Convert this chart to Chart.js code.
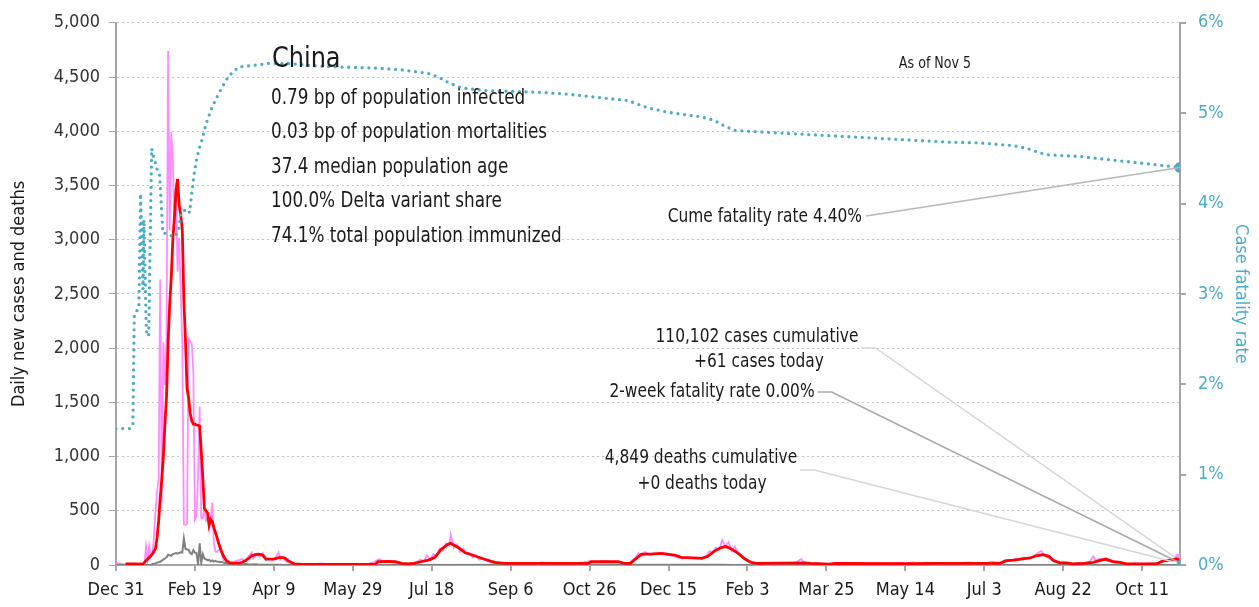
<!DOCTYPE html>
<html><head><meta charset="utf-8">
<script src="https://cdn.jsdelivr.net/npm/chart.js@4.4.0/dist/chart.umd.min.js"></script>
<style>
html,body{margin:0;padding:0;background:#fff;}
#wrap{position:relative;width:1259px;height:607px;}
</style></head><body>
<div id="wrap"><canvas id="c" width="1259" height="607"></canvas></div>
<script>
// ---------- DATA (day 0 = Dec 31, 2019) ----------
const xTickLabels = ['Dec 31','Feb 19','Apr 9','May 29','Jul 18','Sep 6','Oct 26','Dec 15','Feb 3','Mar 25','May 14','Jul 3','Aug 22','Oct 11'];
const lastDay = 674;

const caseDays = [0,2,4,6,8,18,19,20,21,22,23,24,25,26,27,28,29,30,31,32,33,34,35,36,37,38,39,40,41,42,43,44,45,46,47,48,49,50,51,52,53,54,55,56,57,58,59,60,61,62,63,64,65,66,67,68,69,70,71,72,73,74,75,
76,78,80,82,84,86,87,89,91,93,95,97,99,101,103,104,106,108,110,112,115,120,125,130,135,140,145,150,155,160,163,165,167,170,172,175,178,182,186,190,193,195,197,199,201,203,205,207,209,211,212,214,216,218,220,222,224,226,228,230,232,235,238,242,246,250,255,260,265,270,275,280,285,290,295,300,303,306,310,314,318,322,325,327,329,331,333,335,338,341,344,347,350,353,356,359,362,365,368,371,374,376,378,380,382,384,386,388,390,392,394,396,398,400,403,406,410,415,420,425,430,434,436,440,445,450,455,460,465,470,475,480,485,490,495,500,505,510,515,520,525,530,535,540,545,550,555,560,563,566,569,572,575,578,581,584,586,588,590,592,594,597,600,603,606,610,614,617,619,621,623,625,627,630,633,636,640,645,650,655,660,663,665,668,670,672,674];
const caseVals = [20,15,10,3,0,0,170,45,175,75,100,250,490,670,800,2632,578,2054,1661,2089,4739,3086,3991,3733,3147,3523,2704,3015,2525,2032,373,370,380,2087,2060,2040,1780,420,450,830,1460,430,430,520,410,440,330,430,575,200,125,120,140,145,100,45,40,20,25,25,15,20,30,
40,45,55,35,80,115,60,100,75,110,45,60,50,65,115,50,75,30,20,10,5,10,3,15,5,8,4,6,3,10,25,40,55,25,40,30,20,10,15,25,50,30,90,45,100,80,150,130,200,180,280,160,190,120,150,100,110,70,90,50,60,40,20,15,20,10,20,10,15,25,10,15,20,10,20,35,25,30,40,25,30,15,20,45,60,110,85,120,95,110,100,115,90,85,70,60,75,65,70,60,85,130,110,160,140,230,170,210,130,170,100,90,60,35,20,10,15,10,20,10,15,55,20,12,15,5,20,8,15,12,10,8,15,10,20,15,25,12,20,15,10,20,12,25,15,10,30,20,45,35,55,50,70,60,80,110,130,95,70,50,35,20,25,15,10,20,15,35,80,40,60,50,45,30,25,20,10,15,10,15,20,40,35,55,50,90,61];

const avgDays = [6,12,17,19,21,23,25,26,27,28,29,30,31,32,33,34,35,36,37,38,39,40,41,42,43,44,45,46,47,48,49,50,51,52,53,54,55,56,57,58,59,60,61,62,63,64,65,66,67,68,69,70,72,74,78,80,82,84,86,88,90,92,93,95,100,104,107,109,113,118,164,166,172,177,181,185,189,193,198,202,206,210,212,217,221,227,233,240,246,299,301,318,322,326,329,333,339,345,354,358,371,375,379,383,386,389,394,398,402,406,436,440,452,456,505,518,560,564,569,573,579,583,587,591,594,598,602,606,613,619,623,627,632,636,640,659,663,668,672,674];
const avgVals = [9,9,8,40,70,100,150,250,400,620,790,1000,1300,1550,2050,2400,2650,3000,3200,3450,3560,3320,3230,3090,2430,2080,1630,1540,1400,1330,1300,1300,1290,1290,1280,1050,800,520,500,480,370,420,400,345,300,253,200,160,120,85,60,40,22,18,18,25,40,60,85,95,100,96,90,55,55,70,64,40,10,5,5,30,33,30,15,10,15,30,45,70,145,190,200,160,115,85,55,25,15,15,30,30,15,15,55,100,100,107,92,70,62,80,128,158,170,155,110,60,25,15,20,15,8,15,12,15,15,40,45,55,65,85,95,80,40,20,20,10,15,25,40,55,30,25,10,10,35,45,55,45];

const deathDays = [0,22,23,24,25,26,27,28,29,30,31,32,33,34,35,36,37,38,39,40,41,42,43,44,45,46,47,48,49,50,51,52,53,54,55,56,57,58,59,60,61,62,63,64,65,66,67,68,69,70,71,72,73,74,75,76,77,78,79,80,82,84,86,88,90,95,100,110,120,385,390,395,674];
const deathVals = [0,0,8,12,15,22,25,30,40,50,60,70,95,90,85,100,105,110,105,112,118,115,245,150,143,142,110,100,136,114,110,5,200,20,100,60,52,44,47,35,42,31,38,31,30,28,27,22,17,22,11,7,13,10,14,13,11,8,3,7,9,5,4,6,4,3,2,1,0,2,1,0,0];

const cfrDays = [0,9.1,10.7,11.6,14.5,15.6,17.1,17.7,19.2,20.7,22.6,23.8,25.1,26.3,27.6,28.5,29.7,32.2,36.5,39.6,41.1,44.9,46.6,48.1,49.1,50.8,52.9,54.4,57,60.7,64,67,71.3,77.6,87.9,96.5,109.2,128.2,142.9,164,180.8,197.7,204,210.4,218.8,233.5,254.6,269.4,286.2,307.3,324.2,336.8,349.5,362.1,370.5,378.9,385.3,391.6,400,421.1,442.2,463.3,484.4,505.4,526.5,547.6,568.6,577.1,585.5,589.7,610.8,631.9,653,674];
const cfrVals = [1.51,1.51,1.55,2.78,2.84,4.11,3.05,3.82,2.59,2.53,4.61,4.51,4.44,4.36,4.32,4.05,3.67,3.67,3.63,3.69,3.90,3.94,3.90,4.13,4.28,4.47,4.62,4.70,4.88,5.06,5.18,5.28,5.41,5.51,5.53,5.55,5.55,5.52,5.51,5.50,5.48,5.44,5.40,5.34,5.28,5.25,5.24,5.23,5.21,5.17,5.14,5.06,5.01,4.98,4.96,4.92,4.86,4.81,4.80,4.78,4.76,4.74,4.72,4.70,4.68,4.67,4.64,4.61,4.56,4.54,4.52,4.48,4.44,4.40];

const twoWeekRate = [{x: 674, y: 0}];

const country = 'China';
const infoLines = ['0.79 bp of population infected','0.03 bp of population mortalities','37.4 median population age','100.0% Delta variant share','74.1% total population immunized'];
const asOf = 'As of Nov 5';
const cumeLabel = 'Cume fatality rate 4.40%';
const casesLabel = ['110,102 cases cumulative','+61 cases today'];
const twoWeekLabel = '2-week fatality rate 0.00%';
const deathsLabel = ['4,849 deaths cumulative','+0 deaths today'];

// ---------- STYLE ----------
const FONT = "'Liberation Sans Narrow','Arial Narrow','DejaVu Sans Condensed',sans-serif";
const TEAL = '#4bacc6';
const AXIS = '#a6a6a6';
const SX = 0.88; // horizontal squeeze for annotation text
const toXY = (ds, vs) => ds.map((d, i) => ({x: d, y: vs[i]}));
const lastOnly = (n, r) => (c) => c.dataIndex === n - 1 ? r : 0;

const annot = {
  id: 'annot',
  afterDraw(chart) {
    const ctx = chart.ctx;
    const xs = chart.scales.x, y = chart.scales.y, y2 = chart.scales.y2;
    const ex = xs.getPixelForValue(lastDay);
    const txt = (t, x, yy, align, size, sx) => {
      ctx.save();
      ctx.font = size + 'px ' + FONT;
      ctx.textAlign = align; ctx.textBaseline = 'middle'; ctx.fillStyle = '#1a1a1a';
      ctx.translate(x, yy); ctx.scale(sx, 1); ctx.fillText(t, 0, 0);
      const w = ctx.measureText(t).width * sx;
      ctx.restore();
      return w;
    };
    const lead = (pts, col) => {
      ctx.save();
      ctx.strokeStyle = col; ctx.lineWidth = 1.5;
      ctx.beginPath(); ctx.moveTo(pts[0][0], pts[0][1]);
      for (let i = 1; i < pts.length; i++) ctx.lineTo(pts[i][0], pts[i][1]);
      ctx.stroke(); ctx.restore();
    };
    // title block
    txt(country, 272, 59, 'left', 29, 0.92);
    const ly = [99,133,168,202,237];
    infoLines.forEach((t, i) => txt(t, 271, ly[i], 'left', 21, 0.89));
    txt(asOf, 935, 64, 'center', 16, 0.88);

    // cume fatality
    txt(cumeLabel, 862, 217, 'right', 19.5, SX);
    lead([[866, 216], [ex, y2.getPixelForValue(cfrVals[cfrVals.length-1])]], '#b8b8b8');
    // cases
    const w1 = txt(casesLabel[0], 757, 337, 'center', 19.5, SX);
    txt(casesLabel[1], 759, 362, 'center', 19.5, SX);
    const s1 = 757 + w1/2 + 3;
    lead([[s1, 348], [s1 + 14, 348], [ex - 5, y.getPixelForValue(70)]], '#d6d6d6');
    // 2-week
    const w2 = txt(twoWeekLabel, 712, 392, 'center', 19.5, SX);
    const s2 = 712 + w2/2 + 3;
    lead([[s2, 392], [s2 + 14, 392], [ex - 2, y2.getPixelForValue(0) - 3]], '#a8a8a8');
    // deaths
    const w3 = txt(deathsLabel[0], 701, 458, 'center', 19.5, SX);
    txt(deathsLabel[1], 702, 484, 'center', 19.5, SX);
    const s3 = 701 + w3/2 + 3;
    lead([[s3, 470], [s3 + 14, 470], [ex - 7, y.getPixelForValue(30)]], '#d6d6d6');
  }
};

new Chart(document.getElementById('c'), {
  type: 'line',
  data: { datasets: [
    { data: toXY(cfrDays, cfrVals), yAxisID: 'y2', borderColor: TEAL, borderWidth: 3.3, borderDash: [0, 6.7], borderCapStyle: 'round',
      pointRadius: lastOnly(cfrDays.length, 5.5), pointBackgroundColor: TEAL, pointBorderWidth: 0, tension: 0 },
    { data: twoWeekRate, yAxisID: 'y2', showLine: false, pointStyle: 'triangle', pointRadius: 7, pointBackgroundColor: TEAL, pointBorderWidth: 0 },
    { data: toXY(avgDays, avgVals), yAxisID: 'y', borderColor: '#ff0000', borderWidth: 2.8, pointRadius: 0, tension: 0 },
    { data: toXY(deathDays, deathVals), yAxisID: 'y', borderColor: '#808080', borderWidth: 2, pointRadius: 0, tension: 0 },
    { data: toXY(caseDays, caseVals), yAxisID: 'y', borderColor: '#ff8cff', borderWidth: 1.8,
      pointRadius: lastOnly(caseDays.length, 5), pointBackgroundColor: '#ff8cff', pointBorderWidth: 0, tension: 0 }
  ]},
  options: {
    responsive: false, animation: false, devicePixelRatio: 1,
    layout: { padding: { top: 18, left: 0, right: 0, bottom: 0 } },
    plugins: { legend: { display: false }, tooltip: { enabled: false } },
    scales: {
      x: { type: 'linear', min: 0, max: lastDay,
        afterFit: s => { s.height = 42; },
        ticks: { stepSize: 50, includeBounds: false, autoSkip: false, maxRotation: 0, padding: 9,
          callback: v => xTickLabels[Math.round(v / 50)], color: '#1a1a1a', font: { family: FONT, size: 18 } },
        grid: { drawOnChartArea: false, drawTicks: true, tickLength: 6, color: AXIS, lineWidth: 2 },
        border: { color: AXIS, width: 2 } },
      y: { position: 'left', min: 0, max: 5000,
        afterFit: s => { s.width = 116; },
        ticks: { stepSize: 500, padding: 9, callback: v => v.toLocaleString('en-US'), color: '#333', font: { family: FONT, size: 18 } },
        grid: { color: '#c4c4c4', lineWidth: 1, tickLength: 7, tickColor: AXIS, tickBorderDash: [] },
        border: { color: AXIS, width: 2, dash: [2, 3] },
        title: { display: true, text: 'Daily new cases and deaths', color: '#1a1a1a', font: { family: FONT, size: 18 }, padding: { top: 9, bottom: 0 } } },
      y2: { position: 'right', min: 0, max: 6,
        afterFit: s => { s.width = 79; },
        ticks: { stepSize: 1, padding: 12, callback: v => v + '%', color: TEAL, font: { family: FONT, size: 18 } },
        grid: { drawOnChartArea: false, tickLength: 6, color: AXIS, lineWidth: 2 },
        border: { color: AXIS, width: 2 },
        title: { display: true, text: 'Case fatality rate', color: TEAL, font: { family: FONT, size: 18 }, padding: { top: 8, bottom: 0 } } }
    }
  },
  plugins: [annot]
});
</script>
</body></html>
